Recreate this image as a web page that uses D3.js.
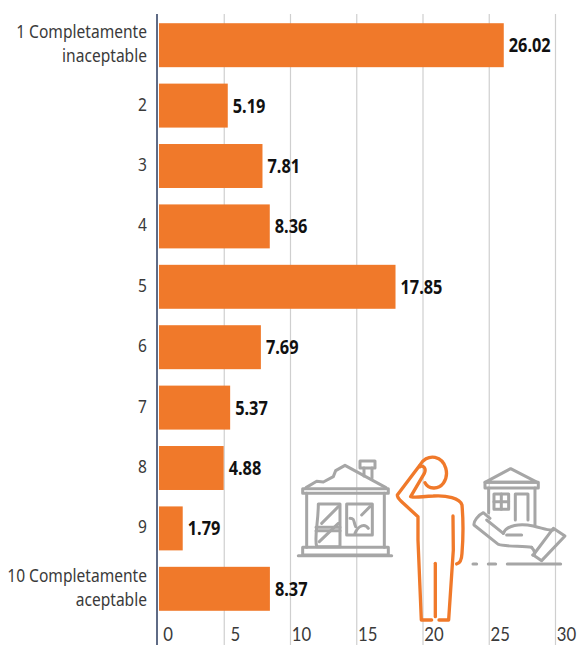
<!DOCTYPE html>
<html><head><meta charset="utf-8">
<script src="https://cdnjs.cloudflare.com/ajax/libs/d3/7.8.5/d3.min.js"></script>
<style>html,body{margin:0;background:#fff}svg{display:block}
text{font-family:"Noto Sans",sans-serif}</style></head>
<body><svg id="c" width="577" height="645"></svg>
<script>
const categories=[["1 Completamente","inaceptable"],["2"],["3"],["4"],["5"],["6"],["7"],["8"],["9"],["10 Completamente","aceptable"]];
const values=[26.02,5.19,7.81,8.36,17.85,7.69,5.37,4.88,1.79,8.37];
const ticks=[0,5,10,15,20,25,30];
const orange="#f0792a",grey="#a6a6a6";
const svg=d3.select("#c");
const x=d3.scaleLinear().domain([0,30]).range([159,556.5]);
const y=d3.scaleBand().domain(d3.range(values.length)).range([15,619]).paddingInner(0.272).paddingOuter(0.136);
const narrow=(sel,fx,fy,s)=>sel.attr("transform",(d,i)=>`translate(${fx(d,i)},${fy(d,i)}) scale(${s},1)`);

svg.append("g").selectAll("line").data(ticks.slice(1)).join("line")
  .attr("x1",d=>x(d)-1).attr("x2",d=>x(d)-1).attr("y1",14).attr("y2",645)
  .attr("stroke","#cfcfcf").attr("stroke-width",1.2);
narrow(svg.append("g").selectAll("text").data(ticks).join("text")
  .attr("text-anchor","middle").attr("font-size",19).attr("fill","#3a3a3a")
  .style("font-family","Lato").text(d=>d),
  d=>x(d)+(d===0?9:10),()=>641,.88);
svg.append("g").selectAll("rect").data(values).join("rect")
  .attr("x",x(0)).attr("y",(d,i)=>y(i)).attr("width",d=>x(d)-x(0)).attr("height",y.bandwidth())
  .attr("fill",orange);
svg.append("line").attr("x1",157).attr("x2",157).attr("y1",14).attr("y2",645)
  .attr("stroke","#5f6b85").attr("stroke-width",2);
narrow(svg.append("g").selectAll("text").data(values).join("text")
  .attr("font-size",19).attr("font-weight",700).attr("fill","#111").text(d=>d.toFixed(2)),
  d=>x(d)+5,(d,i)=>y(i)+y.bandwidth()/2+7,.86);
categories.forEach((c,i)=>{
  const cy=y(i)+y.bandwidth()/2;
  c.forEach((t,j)=>svg.append("text").attr("text-anchor","end").attr("font-size",19).attr("fill","#3a3a3a")
    .attr("transform",`translate(147,${cy+5+(j-(c.length-1)/2)*24}) scale(.82,1)`).text(t));
});
const ic=svg.append("g").attr("transform","translate(290,440) scale(0.3333)")
  .attr("fill","none").attr("stroke-linecap","round").attr("stroke-linejoin","round");
const g1=ic.append("g").attr("stroke",grey).attr("stroke-width",9);
[
 "M38 146H295V160H38Z","M48 143L80 124L100 126L130 110L137 92L165 76L288 143",
 "M210 63H255V84H210Z","M222 84V108M246 84V115",
 "M50 160V322M283 160V322","M38 322H295V345H38Z","M25 347H305",
 "M85 192H150V320H80C72 290 85 250 85 192Z","M78 262H150M78 272H150","M95 250L145 200M88 305L145 250",
 "M170 192H247V285H170Z","M180 235C195 235 190 245 197 260M195 280C205 255 225 250 235 265M215 225L240 200",
 "M585 127L662 86L742 127Z","M585 127H745V144H585Z","M596 144V218M735 144V255",
 "M612 162H656V208H612Z","M634 162V208M612 185H656","M676 240V162H714V240",
 "M600 235L580 218C565 225 550 245 552 255L625 313C635 320 700 318 725 322",
 "M650 285H695","M640 280C650 255 690 250 730 258C760 265 775 272 790 270","M725 322C738 335 735 350 728 345",
 "M790 265L825 288L755 362L730 345Z","M590 240L640 280",
 "M549 372H560M595 372H617M652 372H812"
].forEach(d=>g1.append("path").attr("d",d));
const g2=ic.append("g").attr("stroke",orange).attr("stroke-width",10);
[
 "M405 128C415 148 445 150 460 130C478 105 470 60 435 52C415 48 398 60 390 75L322 165C322 175 330 180 340 190L384 230L384 300L394 540H425",
 "M390 80C400 75 410 85 403 100L362 170C380 175 400 168 430 168C470 165 510 175 516 195C520 240 520 290 516 340C515 360 510 370 500 372",
 "M489 228L490 330L476 540H447","M436 370V530"
].forEach(d=>g2.append("path").attr("d",d));
</script></body></html>
